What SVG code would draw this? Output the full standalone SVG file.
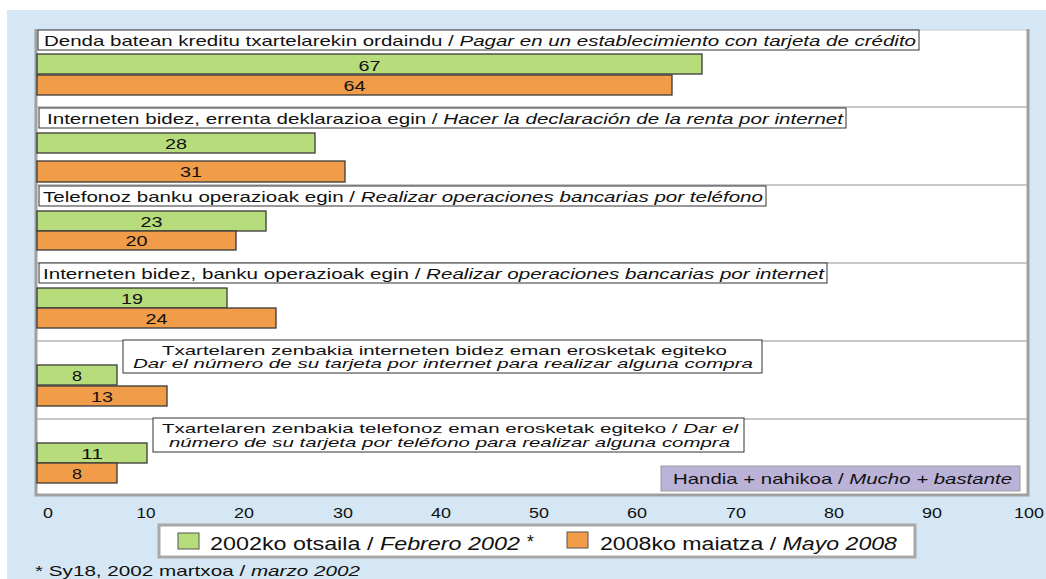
<svg xmlns="http://www.w3.org/2000/svg" width="1046" height="579" viewBox="0 0 1046 579">
<defs>
<style>
text{font-family:"Liberation Sans",Arial,sans-serif;fill:#111;}
.lbl{font-size:14.5px;}
.two{font-size:13.5px;}
.val{font-size:14.5px;text-anchor:middle;}
.ax{font-size:15.5px;text-anchor:middle;}
.leg{font-size:17.5px;}
.it{font-style:italic;}
.box{fill:#fff;stroke:#333;stroke-width:1;}
.g{fill:#b6dc7c;stroke:#3a3a3a;stroke-width:1.3;}
.o{fill:#f09c48;stroke:#3a3a3a;stroke-width:1.3;}
.sep{stroke:#b4b4b4;stroke-width:1.5;}
</style>
</defs>
<rect x="0" y="0" width="1046" height="579" fill="#fff"/>
<rect x="7" y="10" width="1039" height="569" fill="#d5e7f4"/>
<g id="plot">
<rect x="36" y="30" width="992" height="465" fill="#fff" stroke="#c8c8c8" stroke-width="1"/>
<path d="M36 29 V495 H1028 V29" fill="none" stroke="#a0a0a0" stroke-width="3"/>
</g>
<g id="separators">
<line class="sep" x1="37" y1="107" x2="1027" y2="107"/>
<line class="sep" x1="37" y1="185" x2="1027" y2="185"/>
<line class="sep" x1="37" y1="263" x2="1027" y2="263"/>
<line class="sep" x1="37" y1="341" x2="1027" y2="341"/>
<line class="sep" x1="37" y1="419" x2="1027" y2="419"/>
</g>
<g id="cat1">
<rect class="box" x="38" y="30" width="881" height="20"/>
<text class="lbl" x="44" y="46" textLength="872" lengthAdjust="spacingAndGlyphs">Denda batean kreditu txartelarekin ordaindu / <tspan class="it">Pagar en un establecimiento con tarjeta de crédito</tspan></text>
<rect class="g" x="37" y="54" width="665" height="20"/>
<text class="val" x="369.5" y="70.5" textLength="22" lengthAdjust="spacingAndGlyphs">67</text>
<rect class="o" x="37" y="75" width="635" height="20"/>
<text class="val" x="354.5" y="91" textLength="22" lengthAdjust="spacingAndGlyphs">64</text>
</g>
<g id="cat2">
<rect class="box" x="39" y="108" width="807" height="20"/>
<text class="lbl" x="47" y="124" textLength="796" lengthAdjust="spacingAndGlyphs">Interneten bidez, errenta deklarazioa egin / <tspan class="it">Hacer la declaración de la renta por internet</tspan></text>
<rect class="g" x="37" y="133" width="278" height="20"/>
<text class="val" x="176" y="149" textLength="22" lengthAdjust="spacingAndGlyphs">28</text>
<rect class="o" x="37" y="161" width="308" height="21"/>
<text class="val" x="191" y="177" textLength="22" lengthAdjust="spacingAndGlyphs">31</text>
</g>
<g id="cat3">
<rect class="box" x="39" y="186" width="727" height="20"/>
<text class="lbl" x="43" y="201.5" textLength="720" lengthAdjust="spacingAndGlyphs">Telefonoz banku operazioak egin / <tspan class="it">Realizar operaciones bancarias por teléfono</tspan></text>
<rect class="g" x="37" y="211" width="229" height="20"/>
<text class="val" x="151.5" y="227" textLength="22" lengthAdjust="spacingAndGlyphs">23</text>
<rect class="o" x="37" y="231" width="199" height="19"/>
<text class="val" x="136.5" y="246" textLength="22" lengthAdjust="spacingAndGlyphs">20</text>
</g>
<g id="cat4">
<rect class="box" x="39" y="263" width="788" height="20"/>
<text class="lbl" x="43" y="279" textLength="781" lengthAdjust="spacingAndGlyphs">Interneten bidez, banku operazioak egin / <tspan class="it">Realizar operaciones bancarias por internet</tspan></text>
<rect class="g" x="37" y="288" width="190" height="20"/>
<text class="val" x="132" y="304" textLength="22" lengthAdjust="spacingAndGlyphs">19</text>
<rect class="o" x="37" y="308" width="239" height="20"/>
<text class="val" x="156.5" y="324" textLength="22" lengthAdjust="spacingAndGlyphs">24</text>
</g>
<g id="cat5">
<rect class="box" x="123" y="340" width="639" height="33"/>
<text class="two" x="444.5" y="354.5" text-anchor="middle" textLength="565" lengthAdjust="spacingAndGlyphs">Txartelaren zenbakia interneten bidez eman erosketak egiteko</text>
<text class="two it" x="443" y="368" text-anchor="middle" textLength="620" lengthAdjust="spacingAndGlyphs">Dar el número de su tarjeta por internet para realizar alguna compra</text>
<rect class="g" x="37" y="365" width="80" height="20"/>
<text class="val" x="77" y="381" textLength="10" lengthAdjust="spacingAndGlyphs">8</text>
<rect class="o" x="37" y="386" width="130" height="20"/>
<text class="val" x="102" y="402" textLength="22" lengthAdjust="spacingAndGlyphs">13</text>
</g>
<g id="cat6">
<rect class="box" x="153" y="418" width="591" height="34"/>
<text class="two" x="450" y="433" text-anchor="middle" textLength="576" lengthAdjust="spacingAndGlyphs">Txartelaren zenbakia telefonoz eman erosketak egiteko / <tspan class="it">Dar el</tspan></text>
<text class="two it" x="449.5" y="447" text-anchor="middle" textLength="561" lengthAdjust="spacingAndGlyphs">número de su tarjeta por teléfono para realizar alguna compra</text>
<rect class="g" x="37" y="443" width="110" height="20"/>
<text class="val" x="92" y="459" textLength="22" lengthAdjust="spacingAndGlyphs">11</text>
<rect class="o" x="37" y="463" width="80" height="20"/>
<text class="val" x="77" y="479" textLength="10" lengthAdjust="spacingAndGlyphs">8</text>
</g>
<g id="note">
<rect x="661" y="466" width="359" height="25" fill="#bbb2d8" stroke="#9a9a9a" stroke-width="1"/>
<text class="lbl" x="673" y="484" textLength="339" lengthAdjust="spacingAndGlyphs">Handia + nahikoa / <tspan class="it">Mucho + bastante</tspan></text>
</g>
<g id="axis">
<text class="ax" x="48" y="518" textLength="10" lengthAdjust="spacingAndGlyphs">0</text>
<text class="ax" x="146" y="518" textLength="19" lengthAdjust="spacingAndGlyphs">10</text>
<text class="ax" x="244" y="518" textLength="20" lengthAdjust="spacingAndGlyphs">20</text>
<text class="ax" x="343" y="518" textLength="20" lengthAdjust="spacingAndGlyphs">30</text>
<text class="ax" x="441" y="518" textLength="20" lengthAdjust="spacingAndGlyphs">40</text>
<text class="ax" x="539" y="518" textLength="20" lengthAdjust="spacingAndGlyphs">50</text>
<text class="ax" x="637" y="518" textLength="20" lengthAdjust="spacingAndGlyphs">60</text>
<text class="ax" x="736" y="518" textLength="20" lengthAdjust="spacingAndGlyphs">70</text>
<text class="ax" x="834" y="518" textLength="20" lengthAdjust="spacingAndGlyphs">80</text>
<text class="ax" x="932" y="518" textLength="20" lengthAdjust="spacingAndGlyphs">90</text>
<text class="ax" x="1029" y="518" textLength="30" lengthAdjust="spacingAndGlyphs">100</text>
</g>
<g id="legend">
<rect x="159" y="525" width="756" height="32" fill="#fff" stroke="#a8a8a8" stroke-width="3"/>
<rect x="178" y="533" width="21" height="16" fill="#b6dc7c" stroke="#555" stroke-width="1"/>
<text class="leg" x="210" y="550" textLength="310" lengthAdjust="spacingAndGlyphs">2002ko otsaila / <tspan class="it">Febrero 2002</tspan></text>
<text class="leg" x="527" y="548">*</text>
<rect x="567" y="532" width="21" height="16" fill="#f09c48" stroke="#555" stroke-width="1"/>
<text class="leg" x="600" y="550" textLength="297" lengthAdjust="spacingAndGlyphs">2008ko maiatza / <tspan class="it">Mayo 2008</tspan></text>
</g>
<g id="footnote">
<text x="35" y="576" font-size="15" textLength="325" lengthAdjust="spacingAndGlyphs">* Sy18, 2002 martxoa / <tspan class="it">marzo 2002</tspan></text>
</g>
</svg>
